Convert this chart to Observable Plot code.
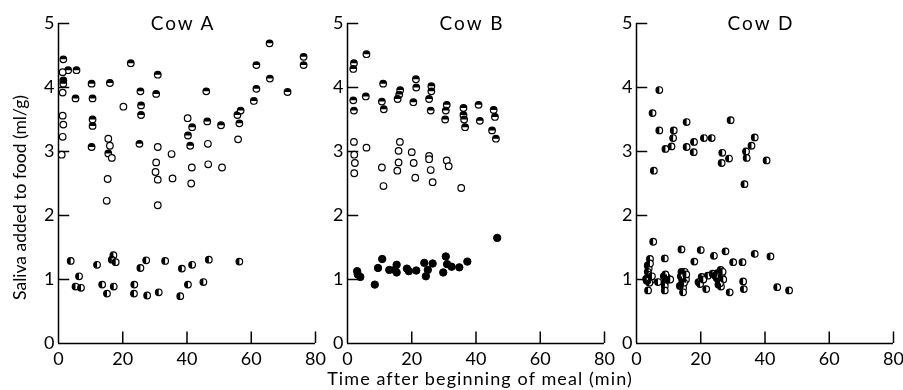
<!DOCTYPE html>
<html><head><meta charset="utf-8">
<script src="https://cdn.jsdelivr.net/npm/d3@7"></script>
<script src="https://cdn.jsdelivr.net/npm/@observablehq/plot@0.6"></script>
<style>
html,body{margin:0;padding:0;background:#fff;}
svg text{-webkit-font-smoothing:antialiased;}
svg{filter:grayscale(1);}
</style>
</head><body><div id="chart"></div>
<script>
const cows = ["Cow A", "Cow B", "Cow D"];
const yTicks = [0, 1, 2, 3, 4, 5];
const xTicks = [0, 20, 40, 60, 80];
const xLabel = "Time after beginning of meal (min)";
const yLabel = "Saliva added to food (ml/g)";

// [time after beginning of meal (min), saliva added (ml/g)]
const cowA_topHalf = [[1.5,4.44],[3.0,4.27],[5.6,4.27],[1.5,4.11],[1.5,4.06],[5.3,3.83],[10.3,4.06],[10.6,3.83],[10.6,3.50],[10.6,3.40],[10.3,3.07],[16.0,4.07],[22.5,4.38],[25.5,3.94],[25.7,3.72],[25.7,3.57],[25.2,3.12],[30.9,4.20],[30.4,3.90],[40.3,3.25],[41.6,3.38],[41.0,3.09],[46.0,3.94],[46.3,3.47],[50.6,3.41],[55.7,3.57],[56.7,3.64],[56.3,3.44],[60.8,3.79],[61.6,3.98],[61.6,4.35],[65.7,4.69],[65.8,4.14],[71.3,3.93],[76.3,4.48],[76.3,4.35],[15.5,2.97]];
const cowA_open = [[1.3,4.24],[1.3,3.92],[1.3,3.56],[1.5,3.42],[1.3,3.23],[1.0,2.95],[20.2,3.70],[15.5,3.20],[16.0,3.09],[16.6,2.90],[15.3,2.57],[15.0,2.23],[30.9,3.07],[30.4,2.83],[30.2,2.68],[30.9,2.56],[30.9,2.16],[35.2,2.96],[35.5,2.58],[40.2,3.52],[41.5,2.75],[41.3,2.50],[46.5,3.12],[46.6,2.80],[50.9,2.75],[55.9,3.19]];
const cowA_leftHalf = [[3.8,1.29],[6.4,1.05],[5.3,0.89],[7.0,0.87],[12.0,1.23],[13.6,0.92],[15.1,0.78],[17.1,1.38],[16.6,1.31],[17.8,1.27],[17.2,0.89],[23.6,0.92],[23.5,0.78],[25.5,1.18],[27.3,1.30],[27.6,0.75],[31.2,0.80],[33.2,1.29],[37.9,0.74],[38.4,1.17],[41.6,1.23],[40.3,0.92],[45.1,0.96],[46.8,1.31],[56.3,1.28]];

const cowB_topHalf = [[2.0,4.38],[1.8,4.29],[5.9,4.52],[5.7,3.86],[1.8,3.80],[2.0,3.64],[11.1,4.06],[10.7,3.78],[11.3,3.66],[16.4,3.96],[16.1,3.89],[15.6,3.82],[21.3,4.13],[21.4,4.00],[20.5,3.77],[26.1,4.02],[26.1,3.94],[25.4,3.82],[25.9,3.64],[30.9,3.73],[30.6,3.64],[30.4,3.50],[36.1,3.68],[36.1,3.57],[36.3,3.50],[36.6,3.38],[40.8,3.73],[41.2,3.48],[45.5,3.65],[45.9,3.54],[45.0,3.33],[46.2,3.20]];
const cowB_open = [[2.0,3.15],[2.1,2.95],[2.3,2.82],[2.1,2.66],[5.9,3.06],[10.7,2.75],[11.2,2.46],[16.3,3.15],[15.9,3.01],[15.9,2.83],[15.5,2.70],[20.0,2.99],[20.6,2.82],[21.1,2.59],[25.4,2.93],[25.4,2.88],[25.9,2.71],[26.5,2.52],[30.9,2.86],[31.5,2.77],[35.4,2.43]];
const cowB_filled = [[3.0,1.13],[3.2,1.08],[4.0,1.04],[8.5,0.92],[9.5,1.18],[10.8,1.32],[13.0,1.15],[14.7,1.15],[15.3,1.23],[15.3,1.11],[18.5,1.17],[19.1,1.13],[21.4,1.14],[23.9,1.26],[24.4,1.05],[25.0,1.15],[26.5,1.25],[29.8,1.11],[30.6,1.36],[31.0,1.24],[32.4,1.20],[34.8,1.19],[37.3,1.28],[46.6,1.65]];

const cowD_leftHalf = [[7.1,3.96],[5.0,3.60],[7.1,3.33],[5.4,2.70],[9.0,3.04],[10.9,3.08],[11.6,3.33],[11.4,3.21],[15.6,3.46],[15.6,3.07],[17.9,3.15],[17.8,2.99],[21.0,3.21],[23.4,3.21],[29.3,3.49],[26.7,2.98],[26.5,2.82],[28.8,2.89],[34.1,3.00],[34.3,2.90],[35.8,3.09],[36.8,3.22],[40.5,2.86],[33.6,2.49],
  [5.2,1.59],[4.2,1.32],[8.8,1.33],[14.0,1.47],[20.0,1.46],[24.1,1.37],[27.7,1.44],[18.0,1.28],[30.1,1.27],[33.0,1.27],[36.8,1.40],[41.7,1.36],
  [3.5,1.22],[3.8,1.17],[3.5,1.12],[3.8,1.07],[3.0,1.01],[4.5,0.99],[3.6,0.83],[4.2,1.25],[4.8,1.05],[4.0,0.95],[3.2,0.98],
  [6.7,0.96],[8.5,1.05],[8.8,0.95],[9.8,1.00],[8.8,0.90],[8.8,0.83],[9.5,1.03],[10.5,1.00],[9.0,1.08],
  [14.0,1.12],[15.0,1.12],[14.2,1.00],[14.2,0.93],[14.5,0.87],[15.4,1.00],[14.5,0.80],[13.8,1.05],[15.5,1.08],[14.8,0.95],[13.5,0.90],
  [19.3,0.96],[20.3,1.04],[21.7,0.85],[22.2,1.06],[23.7,1.09],[19.8,0.93],[20.8,1.00],
  [25.2,1.10],[26.2,1.15],[26.5,1.05],[25.8,0.98],[25.5,0.92],[26.3,0.89],[26.8,1.12],[27.0,1.00],[25.0,1.02],[26.0,0.94],[24.5,1.06],
  [29.0,0.80],[33.2,0.97],[33.4,0.85],[43.8,0.88],[47.5,0.83]];

const rows = (cow, style, arr) => arr.map(([t, v]) => ({cow, style, t, v}));
const all = [
  ...rows("Cow A", "top", cowA_topHalf),
  ...rows("Cow A", "open", cowA_open),
  ...rows("Cow A", "left", cowA_leftHalf),
  ...rows("Cow B", "top", cowB_topHalf),
  ...rows("Cow B", "open", cowB_open),
  ...rows("Cow B", "filled", cowB_filled),
  ...rows("Cow D", "left", cowD_leftHalf)
];

const halfTop = {draw(ctx, size) {
  const r = Math.sqrt(size / Math.PI);
  ctx.moveTo(-r, 0); ctx.arc(0, 0, r, Math.PI, 2 * Math.PI); ctx.closePath();
}};
const halfLeft = {draw(ctx, size) {
  const r = Math.sqrt(size / Math.PI);
  ctx.moveTo(0, r); ctx.arc(0, 0, r, Math.PI / 2, 3 * Math.PI / 2); ctx.closePath();
}};

const yTickData = cows.flatMap(cow => yTicks.map(v => ({cow, v})));
const xTickData = cows.flatMap(cow => xTicks.map(t => ({cow, t})));

const R = 3.3;
const chart = Plot.plot({
  width: 903, height: 390,
  marginLeft: 57, marginRight: 10, marginTop: 23, marginBottom: 47,
  style: {fontFamily: "Lato, 'Open Sans', sans-serif", background: "white", color: "black"},
  fx: {domain: cows, axis: null, paddingInner: 0.112, paddingOuter: 0},
  x: {domain: [0, 80], axis: null},
  y: {domain: [0, 5], axis: null},
  marks: [
    Plot.ruleX(cows, {fx: d => d, x: 0, y1: 0, y2: 5, stroke: "black", strokeWidth: 1.5}),
    Plot.ruleY(cows, {fx: d => d, y: 0, x1: 0, x2: 80, stroke: "black", strokeWidth: 1.5}),
    Plot.ruleY(yTickData.filter(d => d.v > 0), {fx: "cow", y: "v", x1: 0, x2: 3.5, stroke: "black", strokeWidth: 1.5}),
    Plot.ruleX(xTickData.filter(d => d.t > 0), {fx: "cow", x: "t", y1: 0, y2: 0.18, stroke: "black", strokeWidth: 1.5}),
    Plot.text(yTickData, {fx: "cow", x: 0, y: "v", text: d => String(d.v), textAnchor: "end", lineAnchor: "middle", dx: -4, fontSize: 18, fill: "black"}),
    Plot.text(xTickData, {fx: "cow", x: "t", y: 0, text: d => String(d.t), lineAnchor: "middle", dy: 15.5, fontSize: 18, fill: "black"}),
    Plot.text(cows, {fx: d => d, text: d => d, frameAnchor: "top", lineAnchor: "middle", textAnchor: "middle", dx: -4, fontSize: 19, fill: "black"}),
    Plot.text([xLabel], {fx: () => "Cow B", text: d => d, frameAnchor: "bottom", lineAnchor: "middle", textAnchor: "middle", dx: 4, dy: 36, fontSize: 18, fill: "black"}),
    Plot.text([yLabel], {fx: () => "Cow A", text: d => d, frameAnchor: "left", lineAnchor: "middle", textAnchor: "middle", dx: -38, dy: 14, rotate: -90, fontSize: 17.5, fill: "black"}),
    Plot.dot(all.filter(d => d.style !== "filled"), {fx: "cow", x: "t", y: "v", r: R, fill: "white", stroke: "black", strokeWidth: 1.2}),
    Plot.dot(all.filter(d => d.style === "filled"), {fx: "cow", x: "t", y: "v", r: R + 0.4, fill: "black", stroke: "black", strokeWidth: 1}),
    Plot.dot(all.filter(d => d.style === "top"), {fx: "cow", x: "t", y: "v", r: R, symbol: halfTop, fill: "black", stroke: "none"}),
    Plot.dot(all.filter(d => d.style === "left"), {fx: "cow", x: "t", y: "v", r: R, symbol: halfLeft, fill: "black", stroke: "none"})
  ]
});
// letter spacing to mimic the wide original typeface
d3.select(chart).selectAll("text").each(function() {
  const s = this.textContent;
  if (s === xLabel) this.setAttribute("letter-spacing", "1.1px");
  else if (cows.includes(s)) this.setAttribute("letter-spacing", "2px");
});
document.getElementById("chart").appendChild(chart);
</script>
</body></html>
